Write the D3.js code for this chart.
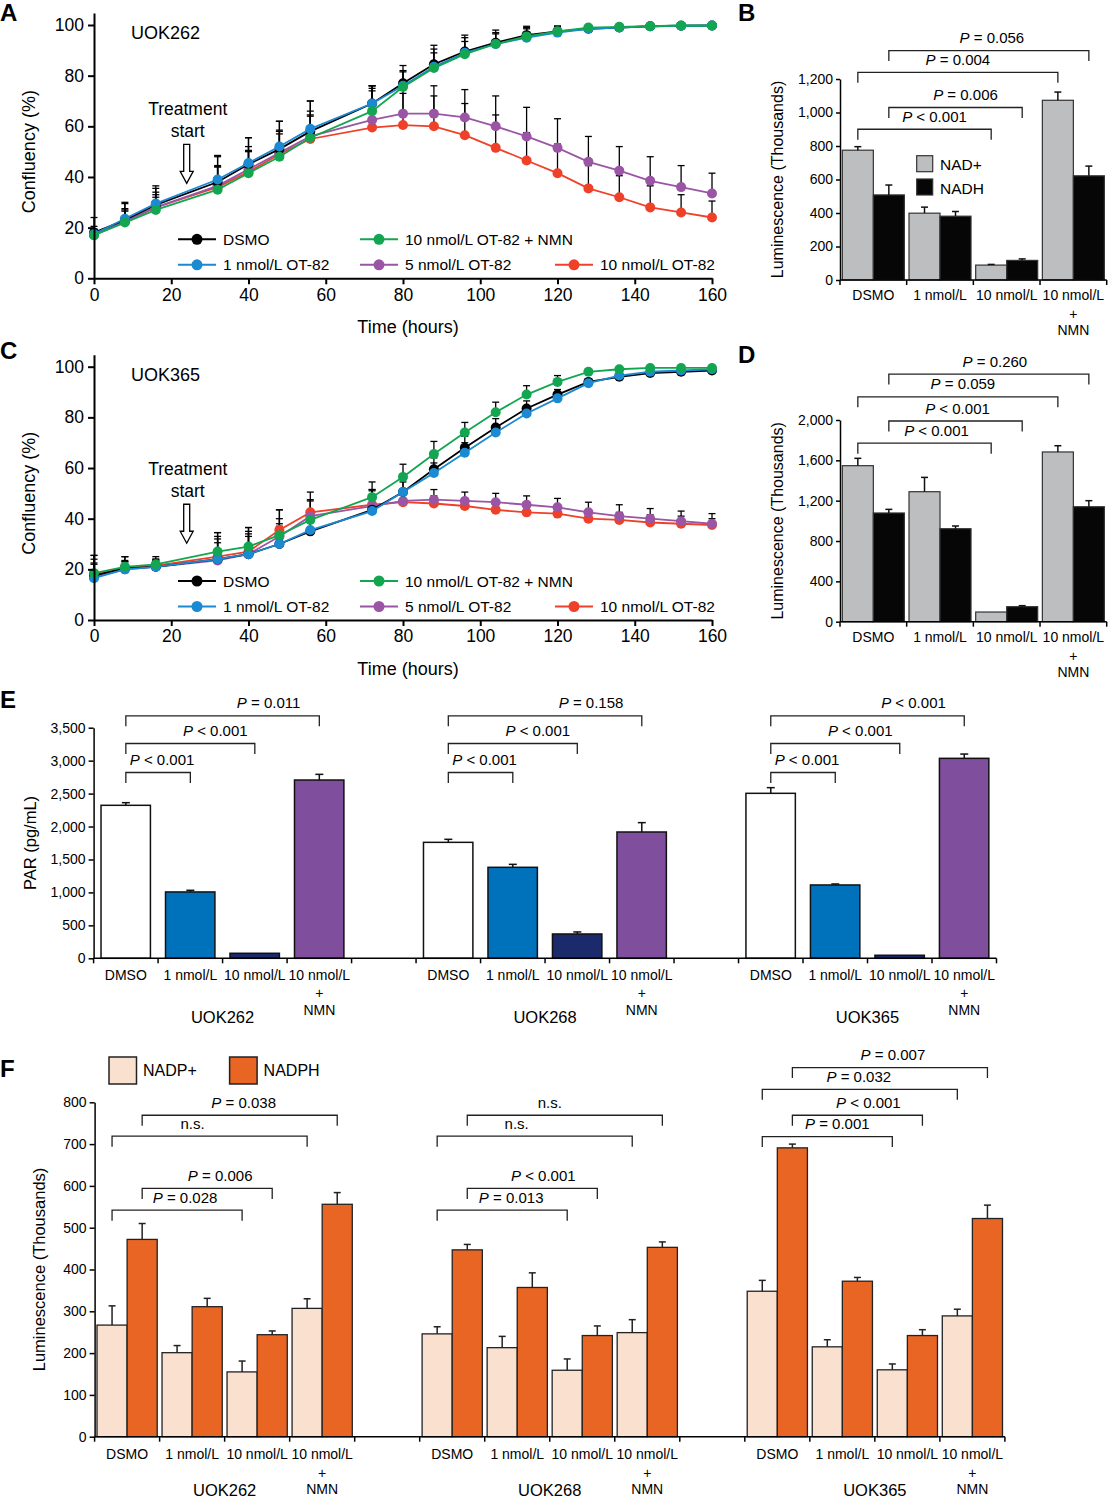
<!DOCTYPE html>
<html>
<head>
<meta charset="utf-8">
<title>OT-82 NAD / PAR figure</title>
<script src="https://cdn.jsdelivr.net/npm/d3@7"></script>
<style>
  body { margin: 0; background: #fff; }
  svg { display: block; font-family: "Liberation Sans", Arial, sans-serif; }
</style>
</head>
<body>
<svg id="fig" width="1108" height="1500"></svg>
<script>
// ---- data ----
const hours = [0, 8, 16, 32, 40, 48, 56, 72, 80, 88, 96, 104, 112, 120, 128, 136, 144, 152, 160];
const growthNames = ["DSMO", "1 nmol/L OT-82", "5 nmol/L OT-82", "10 nmol/L OT-82", "10 nmol/L OT-82 + NMN"];
const growthColors = ["#000000", "#1b8ad3", "#9a55a5", "#ef4129", "#12a650"];

// UOK262 confluency (%), panel A
const a262Dmso = [18, 23, 29, 38, 45, 51, 58, 69, 77, 84.5, 89.5, 93, 96, 97.5, 98.5, 99, 99.5, 99.7, 99.8];
const a262DmsoErr = [6, 7, 7.5, 10.5, 10.5, 11, 12, 7, 7, 7.5, 6.5, 5, 3.5, 2, 1, 0.5, 0.3, 0.2, 0.2];
const a262One = [17.5, 23.5, 29.5, 39, 45.5, 52, 59, 69, 76, 83.5, 89, 92.5, 95, 97, 98.5, 99, 99.5, 99.7, 99.8];
const a262OneErr = [3, 6, 6, 9, 10, 10, 11, 7, 6, 7, 6, 4.5, 4, 2.5, 1, 0.5, 0.3, 0.2, 0.2];
const a262Five = [17, 22.5, 28, 36.5, 43, 49.5, 56, 62.5, 65, 65, 63.5, 60, 56, 51.5, 46, 42.5, 38.5, 36, 33.5];
const a262FiveErr = [2, 5, 6, 8, 9, 9, 10, 13.5, 11, 11, 11, 12, 11.5, 11.5, 10, 9.5, 9.5, 8.5, 8];
const a262Ten = [17.5, 22.5, 28, 36, 42, 49, 55, 59.5, 60.5, 60, 56.5, 51.5, 46.5, 41.5, 35.5, 32, 28, 26, 24];
const a262TenErr = [2, 4, 5, 8, 8, 8, 9, 15.5, 12.5, 12, 12.5, 13, 11, 11.5, 9, 8.5, 8.5, 7, 6.5];
const a262Nmn = [17, 22, 27, 35, 41.5, 48, 55.5, 66, 75.5, 83, 88.5, 92.5, 95.5, 97.5, 99, 99.3, 99.5, 99.8, 99.7];
const a262NmnErr = [2, 5, 5, 9, 9, 10, 9, 8, 6, 6, 5, 4, 3, 2, 1, 0.5, 0.3, 0.2, 0.2];

// UOK365 confluency (%), panel C
const c365Dmso = [17.5, 20.5, 21, 24, 26, 30, 35, 43.5, 50.5, 59.5, 68, 76, 83.5, 89, 94, 96, 97.5, 98, 98.5];
const c365DmsoErr = [8, 4.5, 3, 10.5, 10.5, 8, 7, 8, 5, 4.5, 4.5, 3.5, 3, 2, 1, 1, 0.5, 0.5, 0.3];
const c365One = [16.5, 20, 21, 24, 26, 30, 35.5, 43, 50.5, 58, 66, 74, 81.5, 87.5, 93.5, 96.5, 98, 98.5, 99];
const c365OneErr = [6, 3, 2.5, 8, 8, 7, 6, 6, 4, 4, 4, 3, 3, 2, 1, 1, 0.5, 0.5, 0.3];
const c365Five = [17, 20, 21, 23.5, 26, 33, 41, 45, 47, 47.5, 47, 46.5, 45.5, 44.5, 42.5, 41, 40, 39, 38];
const c365FiveErr = [5, 3, 2.5, 7, 7, 7, 6, 6, 4.5, 4, 3.5, 3.5, 3.5, 3.5, 4, 4.5, 4, 4, 4];
const c365Ten = [18, 20.5, 21.5, 25, 27, 35.5, 42.5, 45.5, 46.5, 46, 45, 43.5, 42.5, 42, 40, 39.5, 38.5, 38, 37.5];
const c365TenErr = [6, 3, 2.5, 8, 8, 8, 8, 6, 3, 3, 3, 3, 3, 3, 3, 3, 3, 3, 2.5];
const c365Nmn = [18.5, 21, 22, 27, 29, 33.5, 39.5, 48.5, 56.5, 65.5, 74, 82, 89, 94, 98, 99, 99.5, 99.5, 99.5];
const c365NmnErr = [7, 4, 3, 7.5, 7.5, 10, 8, 6, 5, 5, 4, 4, 3.5, 2.5, 1, 0.5, 0.3, 0.3, 0.3];

// NAD+/NADH luminescence (thousands), panels B and D
const nadLabels = ["DSMO", "1 nmol/L", "10 nmol/L", "10 nmol/L\n+\nNMN"];
const nadNames = ["NAD+", "NADH"];
const b262Nad = [775, 399, 89, 1073];
const b262NadErr = [21, 36, 4, 49];
const b262Nadh = [508, 381, 117, 622];
const b262NadhErr = [59, 28, 9, 58];
const d365Nad = [1547, 1289, 96, 1683];
const d365NadErr = [73, 142, 4, 62];
const d365Nadh = [1078, 922, 149, 1140];
const d365NadhErr = [36, 27, 10, 60];

// PAR (pg/mL), panel E
const cellLines = ["UOK262", "UOK268", "UOK365"];
const parLabels = ["DMSO", "1 nmol/L", "10 nmol/L", "10 nmol/L\n+\nNMN"];
const parColors = ["#ffffff", "#0072bc", "#1b2a6b", "#7f4f9e"];
const par262 = [2322, 1007, 76, 2706];
const par262Err = [40, 25, 0, 86];
const par268 = [1760, 1381, 369, 1917];
const par268Err = [46, 45, 31, 142];
const par365 = [2504, 1113, 46, 3035];
const par365Err = [86, 15, 0, 65];

// NADP+/NADPH luminescence (thousands), panel F
const nadpNames = ["NADP+", "NADPH"];
const nadpColors = ["#fae0cf", "#e96524"];
const nadp262 = [267, 201, 155, 307];
const nadp262Err = [46, 17, 26, 23];
const nadph262 = [472, 311, 244, 556];
const nadph262Err = [38, 20, 9, 28];
const nadp268 = [246, 213, 159, 249];
const nadp268Err = [17, 27, 27, 31];
const nadph268 = [447, 357, 242, 453];
const nadph268Err = [13, 35, 23, 13];
const nadp365 = [348, 215, 160, 289];
const nadp365Err = [26, 17, 14, 16];
const nadph365 = [691, 372, 242, 522];
const nadph365Err = [9, 9, 14, 32];

// ---- drawing ----
const svg = d3.select('#fig');
svg.append('rect').attr('width', 1108).attr('height', 1500).attr('fill', '#fff');

function pText(sel, label) {
  if (label.startsWith('P')) {
    sel.append('tspan').attr('font-style', 'italic').text('P');
    sel.append('tspan').text(label.slice(1));
  } else {
    sel.text(label);
  }
}

function styleAxis(a, size, w) {
  a.attr('font-family', null).attr('font-size', size);
  a.select('.domain').attr('stroke-width', w);
  a.selectAll('.tick line').attr('stroke-width', w);
  a.selectAll('.tick text').attr('fill', '#000');
}

function bracket(g, x1, x2, yLine, label, dx, size) {
  g.append('path')
    .attr('d', `M${x1},${yLine + 10.5}V${yLine}H${x2}V${yLine + 10.5}`)
    .attr('fill', 'none').attr('stroke', '#222').attr('stroke-width', 1.3);
  const t = g.append('text')
    .attr('x', (x1 + x2) / 2 + dx).attr('y', yLine - 7.5)
    .attr('text-anchor', 'middle').attr('font-size', size);
  pText(t, label);
}

function errBar(g, cx, y1, y2, half) {
  if (Math.abs(y1 - y2) < 0.5) return;
  g.append('line').attr('x1', cx).attr('x2', cx).attr('y1', y1).attr('y2', y2);
  g.append('line').attr('x1', cx - half).attr('x2', cx + half).attr('y1', y2).attr('y2', y2);
}

function panelLetter(letter, x, y) {
  svg.append('text').attr('x', x).attr('y', y).attr('font-size', 24)
    .attr('font-weight', 'bold').text(letter);
}

// growth curves (A, C)
function growthPanel(o) {
  const g = svg.append('g');
  const x = d3.scaleLinear().domain([0, 160]).range([94, 712]);
  const y = d3.scaleLinear().domain([0, 104.7]).range([o.bottom, o.bottom - 265.2]);

  const eg = g.append('g').attr('stroke', '#000').attr('stroke-width', 1.3);
  o.series.forEach(s => s.values.forEach((v, i) => {
    errBar(eg, x(hours[i]), y(v), y(v + s.err[i]), 3.5);
  }));

  const line = d3.line().x((d, i) => x(hours[i])).y(d => y(d));
  o.order.forEach(k => {
    const s = o.series[k];
    g.append('path').datum(s.values).attr('d', line)
      .attr('fill', 'none').attr('stroke', s.color).attr('stroke-width', 1.8);
    g.selectAll(null).data(s.values).enter().append('circle')
      .attr('cx', (d, i) => x(hours[i])).attr('cy', d => y(d)).attr('r', 5)
      .attr('fill', s.color);
  });

  const xa = g.append('g').attr('transform', `translate(0,${o.bottom})`)
    .call(d3.axisBottom(x).tickValues(d3.range(0, 161, 20)).tickSize(6).tickPadding(4).tickSizeOuter(0));
  const ya = g.append('g').attr('transform', 'translate(94,0)')
    .call(d3.axisLeft(y).tickValues(d3.range(0, 101, 20)).tickSize(6).tickPadding(4).tickSizeOuter(0));
  styleAxis(xa, 17.5, 2);
  styleAxis(ya, 17.5, 2);

  g.append('text').attr('x', 408).attr('y', o.bottom + 55).attr('text-anchor', 'middle')
    .attr('font-size', 18).text('Time (hours)');
  g.append('text').attr('transform', `translate(35,${(y(0) + y(100)) / 2}) rotate(-90)`)
    .attr('text-anchor', 'middle').attr('font-size', 18).text('Confluency (%)');
  g.append('text').attr('x', 131).attr('y', y(100) + 14).attr('font-size', 18).text(o.cell);

  // treatment start arrow
  const ax = x(o.arrow[0]), tip = y(o.arrow[1]), top = tip - 39;
  g.append('path')
    .attr('d', `M${ax - 3},${top}H${ax + 3}V${tip - 12}H${ax + 6.5}L${ax},${tip}L${ax - 6.5},${tip - 12}H${ax - 3}Z`)
    .attr('fill', '#fff').attr('stroke', '#000').attr('stroke-width', 1.3);
  g.append('text').attr('x', ax + 1).attr('y', top - 29).attr('text-anchor', 'middle')
    .attr('font-size', 17.5).text('Treatment');
  g.append('text').attr('x', ax + 1).attr('y', top - 7).attr('text-anchor', 'middle')
    .attr('font-size', 17.5).text('start');

  // legend: [column, row] per series
  const cols = [178, 360, 555], rows = [o.bottom - 39, o.bottom - 13.5];
  const legendPos = [[0, 0], [0, 1], [1, 1], [2, 1], [1, 0]];
  o.series.forEach((s, k) => {
    const lx = cols[legendPos[k][0]], ly = rows[legendPos[k][1]];
    g.append('line').attr('x1', lx).attr('x2', lx + 38).attr('y1', ly).attr('y2', ly)
      .attr('stroke', s.color).attr('stroke-width', 2);
    g.append('circle').attr('cx', lx + 19).attr('cy', ly).attr('r', 5.5).attr('fill', s.color);
    g.append('text').attr('x', lx + 45).attr('y', ly + 5.5).attr('font-size', 15.5).text(s.name);
  });
}

function makeSeries(vals, errs) {
  return vals.map((v, k) => ({ name: growthNames[k], color: growthColors[k], values: v, err: errs[k] }));
}

growthPanel({
  bottom: 278.3, cell: 'UOK262', arrow: [24, 37.5], order: [3, 2, 0, 1, 4],
  series: makeSeries([a262Dmso, a262One, a262Five, a262Ten, a262Nmn],
    [a262DmsoErr, a262OneErr, a262FiveErr, a262TenErr, a262NmnErr])
});
growthPanel({
  bottom: 620, cell: 'UOK365', arrow: [24, 30.3], order: [3, 2, 0, 1, 4],
  series: makeSeries([c365Dmso, c365One, c365Five, c365Ten, c365Nmn],
    [c365DmsoErr, c365OneErr, c365FiveErr, c365TenErr, c365NmnErr])
});

// multi-line category labels
function catLabel(g, cx, y0, label, offs, size) {
  label.split('\n').forEach((t, i) => {
    g.append('text').attr('x', cx).attr('y', y0 + offs[i]).attr('text-anchor', 'middle')
      .attr('font-size', size).text(t);
  });
}

// NAD+/NADH bars (B, D)
function nadPanel(o) {
  const g = svg.append('g');
  const x = d3.scaleBand().domain(d3.range(4)).range([840, 1106.7]).paddingInner(0.07).paddingOuter(0.035);
  const sub = d3.scaleBand().domain([0, 1]).range([0, x.bandwidth()]);
  const y = d3.scaleLinear().domain([0, o.max]).range([o.zero, o.top]);
  const fills = ['#bdbec0', '#060606'];

  [o.nad, o.nadh].forEach((vals, s) => {
    g.selectAll(null).data(vals).enter().append('rect')
      .attr('x', (d, i) => x(i) + sub(s)).attr('width', sub.bandwidth())
      .attr('y', d => y(d)).attr('height', d => y(0) - y(d))
      .attr('fill', fills[s]).attr('stroke', '#333').attr('stroke-width', 1.2);
  });
  const eg = g.append('g').attr('stroke', '#111').attr('stroke-width', 1.5);
  [[o.nad, o.nadErr], [o.nadh, o.nadhErr]].forEach(([vals, errs], s) => {
    vals.forEach((v, i) => {
      const cx = x(i) + sub(s) + sub.bandwidth() / 2;
      errBar(eg, cx, y(v), y(v + errs[i]), 3.5);
    });
  });

  const ya = g.append('g').attr('transform', 'translate(840,0)')
    .call(d3.axisLeft(y).tickValues(o.ticks).tickFormat(d3.format(',')).tickSize(4).tickPadding(3).tickSizeOuter(0));
  styleAxis(ya, 14, 1.5);
  g.append('line').attr('x1', 840).attr('x2', 1106.7).attr('y1', y(0)).attr('y2', y(0))
    .attr('stroke', '#000').attr('stroke-width', 1.5);
  g.selectAll(null).data(d3.range(5)).enter().append('line')
    .attr('x1', i => 840 + i * x.step()).attr('x2', i => 840 + i * x.step())
    .attr('y1', y(0)).attr('y2', y(0) + 5).attr('stroke', '#000').attr('stroke-width', 1.5);
  nadLabels.forEach((l, i) => catLabel(g, x(i) + x.bandwidth() / 2, y(0), l, [20, 39, 55], 14));

  g.append('text').attr('transform', `translate(783,${(y(0) + y(o.ticks[o.ticks.length - 1])) / 2}) rotate(-90)`)
    .attr('text-anchor', 'middle').attr('font-size', 16).text('Luminescence (Thousands)');

  o.brackets.forEach(b => {
    const x1 = x(b.from[0]) + sub(b.from[1]) + sub.bandwidth() / 2;
    const x2 = x(b.to[0]) + sub(b.to[1]) + sub.bandwidth() / 2;
    bracket(g, x1, x2, y(b.level), b.label, b.dx, 15);
  });

  if (o.legend) {
    nadNames.forEach((n, s) => {
      const ly = 155.7 + s * 23.3;
      g.append('rect').attr('x', 916.7).attr('y', ly).attr('width', 16).attr('height', 16)
        .attr('fill', fills[s]).attr('stroke', '#333').attr('stroke-width', 1.2);
      g.append('text').attr('x', 940).attr('y', ly + 14.5).attr('font-size', 15.5).text(n);
    });
  }
}

nadPanel({
  zero: 280, top: 79, max: 1200, ticks: d3.range(0, 1201, 200), legend: true,
  nad: b262Nad, nadErr: b262NadErr, nadh: b262Nadh, nadhErr: b262NadhErr,
  brackets: [
    { from: [0, 0], to: [2, 0], level: 900, label: 'P < 0.001', dx: 10 },
    { from: [0, 1], to: [2, 1], level: 1030, label: 'P = 0.006', dx: 10 },
    { from: [0, 0], to: [3, 0], level: 1240, label: 'P = 0.004', dx: 0 },
    { from: [0, 1], to: [3, 1], level: 1370, label: 'P = 0.056', dx: 3 }
  ]
});
nadPanel({
  zero: 621.7, top: 420, max: 2000, ticks: d3.range(0, 2001, 400), legend: false,
  nad: d365Nad, nadErr: d365NadErr, nadh: d365Nadh, nadhErr: d365NadhErr,
  brackets: [
    { from: [0, 0], to: [2, 0], level: 1770, label: 'P < 0.001', dx: 12 },
    { from: [0, 1], to: [2, 1], level: 1990, label: 'P < 0.001', dx: 2 },
    { from: [0, 0], to: [3, 0], level: 2230, label: 'P = 0.059', dx: 5 },
    { from: [0, 1], to: [3, 1], level: 2455, label: 'P = 0.260', dx: 6 }
  ]
});

// PAR bars (E)
(function () {
  const g = svg.append('g');
  const slot = d3.scaleBand().domain(d3.range(14)).range([93.6, 996.5]);
  const bw = slot.bandwidth();
  const y = d3.scaleLinear().domain([0, 3500]).range([958.3, 727.7]);
  const data = [[par262, par262Err], [par268, par268Err], [par365, par365Err]];
  const tops = ['P = 0.011', 'P = 0.158', 'P < 0.001'];

  data.forEach(([vals, errs], gi) => {
    const cx = i => slot(gi * 5 + i) + bw / 2;
    g.selectAll(null).data(vals).enter().append('rect')
      .attr('x', (d, i) => slot(gi * 5 + i) + bw * 0.115).attr('width', bw * 0.766)
      .attr('y', d => y(d)).attr('height', d => y(0) - y(d))
      .attr('fill', (d, i) => parColors[i]).attr('stroke', '#111').attr('stroke-width', 1.5);
    const eg = g.append('g').attr('stroke', '#111').attr('stroke-width', 1.5);
    vals.forEach((v, i) => errBar(eg, cx(i), y(v), y(v + errs[i]), 4));
    parLabels.forEach((l, i) => catLabel(g, cx(i), y(0), l, [21.5, 40, 57], 14));
    g.append('text').attr('x', slot(gi * 5) + 2 * bw).attr('y', y(0) + 65).attr('text-anchor', 'middle')
      .attr('font-size', 16.5).text(cellLines[gi]);
    bracket(g, cx(0), cx(1), y(2820), 'P < 0.001', 4, 15);
    bracket(g, cx(0), cx(2), y(3260), 'P < 0.001', 25, 15);
    bracket(g, cx(0), cx(3), y(3680), tops[gi], 46, 15);
  });

  const ya = g.append('g').attr('transform', 'translate(93.6,0)')
    .call(d3.axisLeft(y).tickValues(d3.range(0, 3501, 500)).tickFormat(d3.format(',')).tickSize(5).tickPadding(3).tickSizeOuter(0));
  styleAxis(ya, 14, 1.5);
  g.append('line').attr('x1', 93.6).attr('x2', 996.5).attr('y1', y(0)).attr('y2', y(0))
    .attr('stroke', '#000').attr('stroke-width', 1.5);
  g.selectAll(null).data(d3.range(15)).enter().append('line')
    .attr('x1', i => 93.6 + i * bw).attr('x2', i => 93.6 + i * bw)
    .attr('y1', y(0)).attr('y2', y(0) + 5).attr('stroke', '#000').attr('stroke-width', 1.5);
  g.append('text').attr('transform', `translate(36,${(y(0) + y(3500)) / 2}) rotate(-90)`)
    .attr('text-anchor', 'middle').attr('font-size', 16.5).text('PAR (pg/mL)');
})();

// NADP+/NADPH bars (F)
(function () {
  const g = svg.append('g');
  const slot = d3.scaleBand().domain(d3.range(14)).range([94.6, 1004.9]);
  const bw = slot.bandwidth();
  const pad = bw * 0.037, w = (bw - 2 * pad) / 2;
  const y = d3.scaleLinear().domain([0, 800]).range([1436.7, 1102.3]);
  const data = [
    [[nadp262, nadp262Err], [nadph262, nadph262Err]],
    [[nadp268, nadp268Err], [nadph268, nadph268Err]],
    [[nadp365, nadp365Err], [nadph365, nadph365Err]]
  ];
  const brackets = [
    [
      { from: [0, 0], to: [2, 0], level: 542, label: 'P = 0.028', dx: 8 },
      { from: [0, 1], to: [2, 1], level: 594, label: 'P = 0.006', dx: 13 },
      { from: [0, 0], to: [3, 0], level: 719, label: 'n.s.', dx: -17 },
      { from: [0, 1], to: [3, 1], level: 769, label: 'P = 0.038', dx: 4 }
    ],
    [
      { from: [0, 0], to: [2, 0], level: 542, label: 'P = 0.013', dx: 9 },
      { from: [0, 1], to: [2, 1], level: 594, label: 'P < 0.001', dx: 11 },
      { from: [0, 0], to: [3, 0], level: 719, label: 'n.s.', dx: -18 },
      { from: [0, 1], to: [3, 1], level: 769, label: 'n.s.', dx: -15 }
    ],
    [
      { from: [0, 0], to: [2, 0], level: 718, label: 'P = 0.001', dx: 10 },
      { from: [0, 1], to: [2, 1], level: 769, label: 'P < 0.001', dx: 11 },
      { from: [0, 0], to: [3, 0], level: 831, label: 'P = 0.032', dx: -1 },
      { from: [0, 1], to: [3, 1], level: 883, label: 'P = 0.007', dx: 3 }
    ]
  ];

  data.forEach((pairs, gi) => {
    const bx = (i, s) => slot(gi * 5 + i) + pad + s * w;
    pairs.forEach(([vals, errs], s) => {
      g.selectAll(null).data(vals).enter().append('rect')
        .attr('x', (d, i) => bx(i, s)).attr('width', w)
        .attr('y', d => y(d)).attr('height', d => y(0) - y(d))
        .attr('fill', nadpColors[s]).attr('stroke', '#222').attr('stroke-width', 1.3);
    });
    const eg = g.append('g').attr('stroke', '#222').attr('stroke-width', 1.5);
    pairs.forEach(([vals, errs], s) => {
      vals.forEach((v, i) => errBar(eg, bx(i, s) + w / 2, y(v), y(v + errs[i]), 3.5));
    });
    nadLabels.forEach((l, i) => catLabel(g, slot(gi * 5 + i) + bw / 2, y(0), l, [22.5, 41, 57.5], 14));
    g.append('text').attr('x', slot(gi * 5) + 2 * bw).attr('y', y(0) + 59.5).attr('text-anchor', 'middle')
      .attr('font-size', 16.5).text(cellLines[gi]);
    brackets[gi].forEach(b => {
      bracket(g, bx(b.from[0], b.from[1]) + w / 2, bx(b.to[0], b.to[1]) + w / 2, y(b.level), b.label, b.dx, 15);
    });
  });

  const ya = g.append('g').attr('transform', 'translate(94.6,0)')
    .call(d3.axisLeft(y).tickValues(d3.range(0, 801, 100)).tickSize(5).tickPadding(3).tickSizeOuter(0));
  styleAxis(ya, 14, 1.5);
  g.append('line').attr('x1', 94.6).attr('x2', 1004.9).attr('y1', y(0)).attr('y2', y(0))
    .attr('stroke', '#000').attr('stroke-width', 1.5);
  g.selectAll(null).data(d3.range(15)).enter().append('line')
    .attr('x1', i => 94.6 + i * bw).attr('x2', i => 94.6 + i * bw)
    .attr('y1', y(0)).attr('y2', y(0) + 5).attr('stroke', '#000').attr('stroke-width', 1.5);
  g.append('text').attr('transform', `translate(45,${(y(0) + y(800)) / 2}) rotate(-90)`)
    .attr('text-anchor', 'middle').attr('font-size', 16.5).text('Luminescence (Thousands)');

  nadpNames.forEach((n, s) => {
    const lx = 109 + s * 120.6;
    g.append('rect').attr('x', lx).attr('y', 1057).attr('width', 27.5).attr('height', 27)
      .attr('fill', nadpColors[s]).attr('stroke', '#222').attr('stroke-width', 1.5);
    g.append('text').attr('x', lx + 34).attr('y', 1076).attr('font-size', 16).text(n);
  });
})();

panelLetter('A', 0, 21);
panelLetter('B', 738, 21);
panelLetter('C', 0, 359);
panelLetter('D', 738, 362.5);
panelLetter('E', 0, 708);
panelLetter('F', 0, 1076.5);
</script>
</body>
</html>
